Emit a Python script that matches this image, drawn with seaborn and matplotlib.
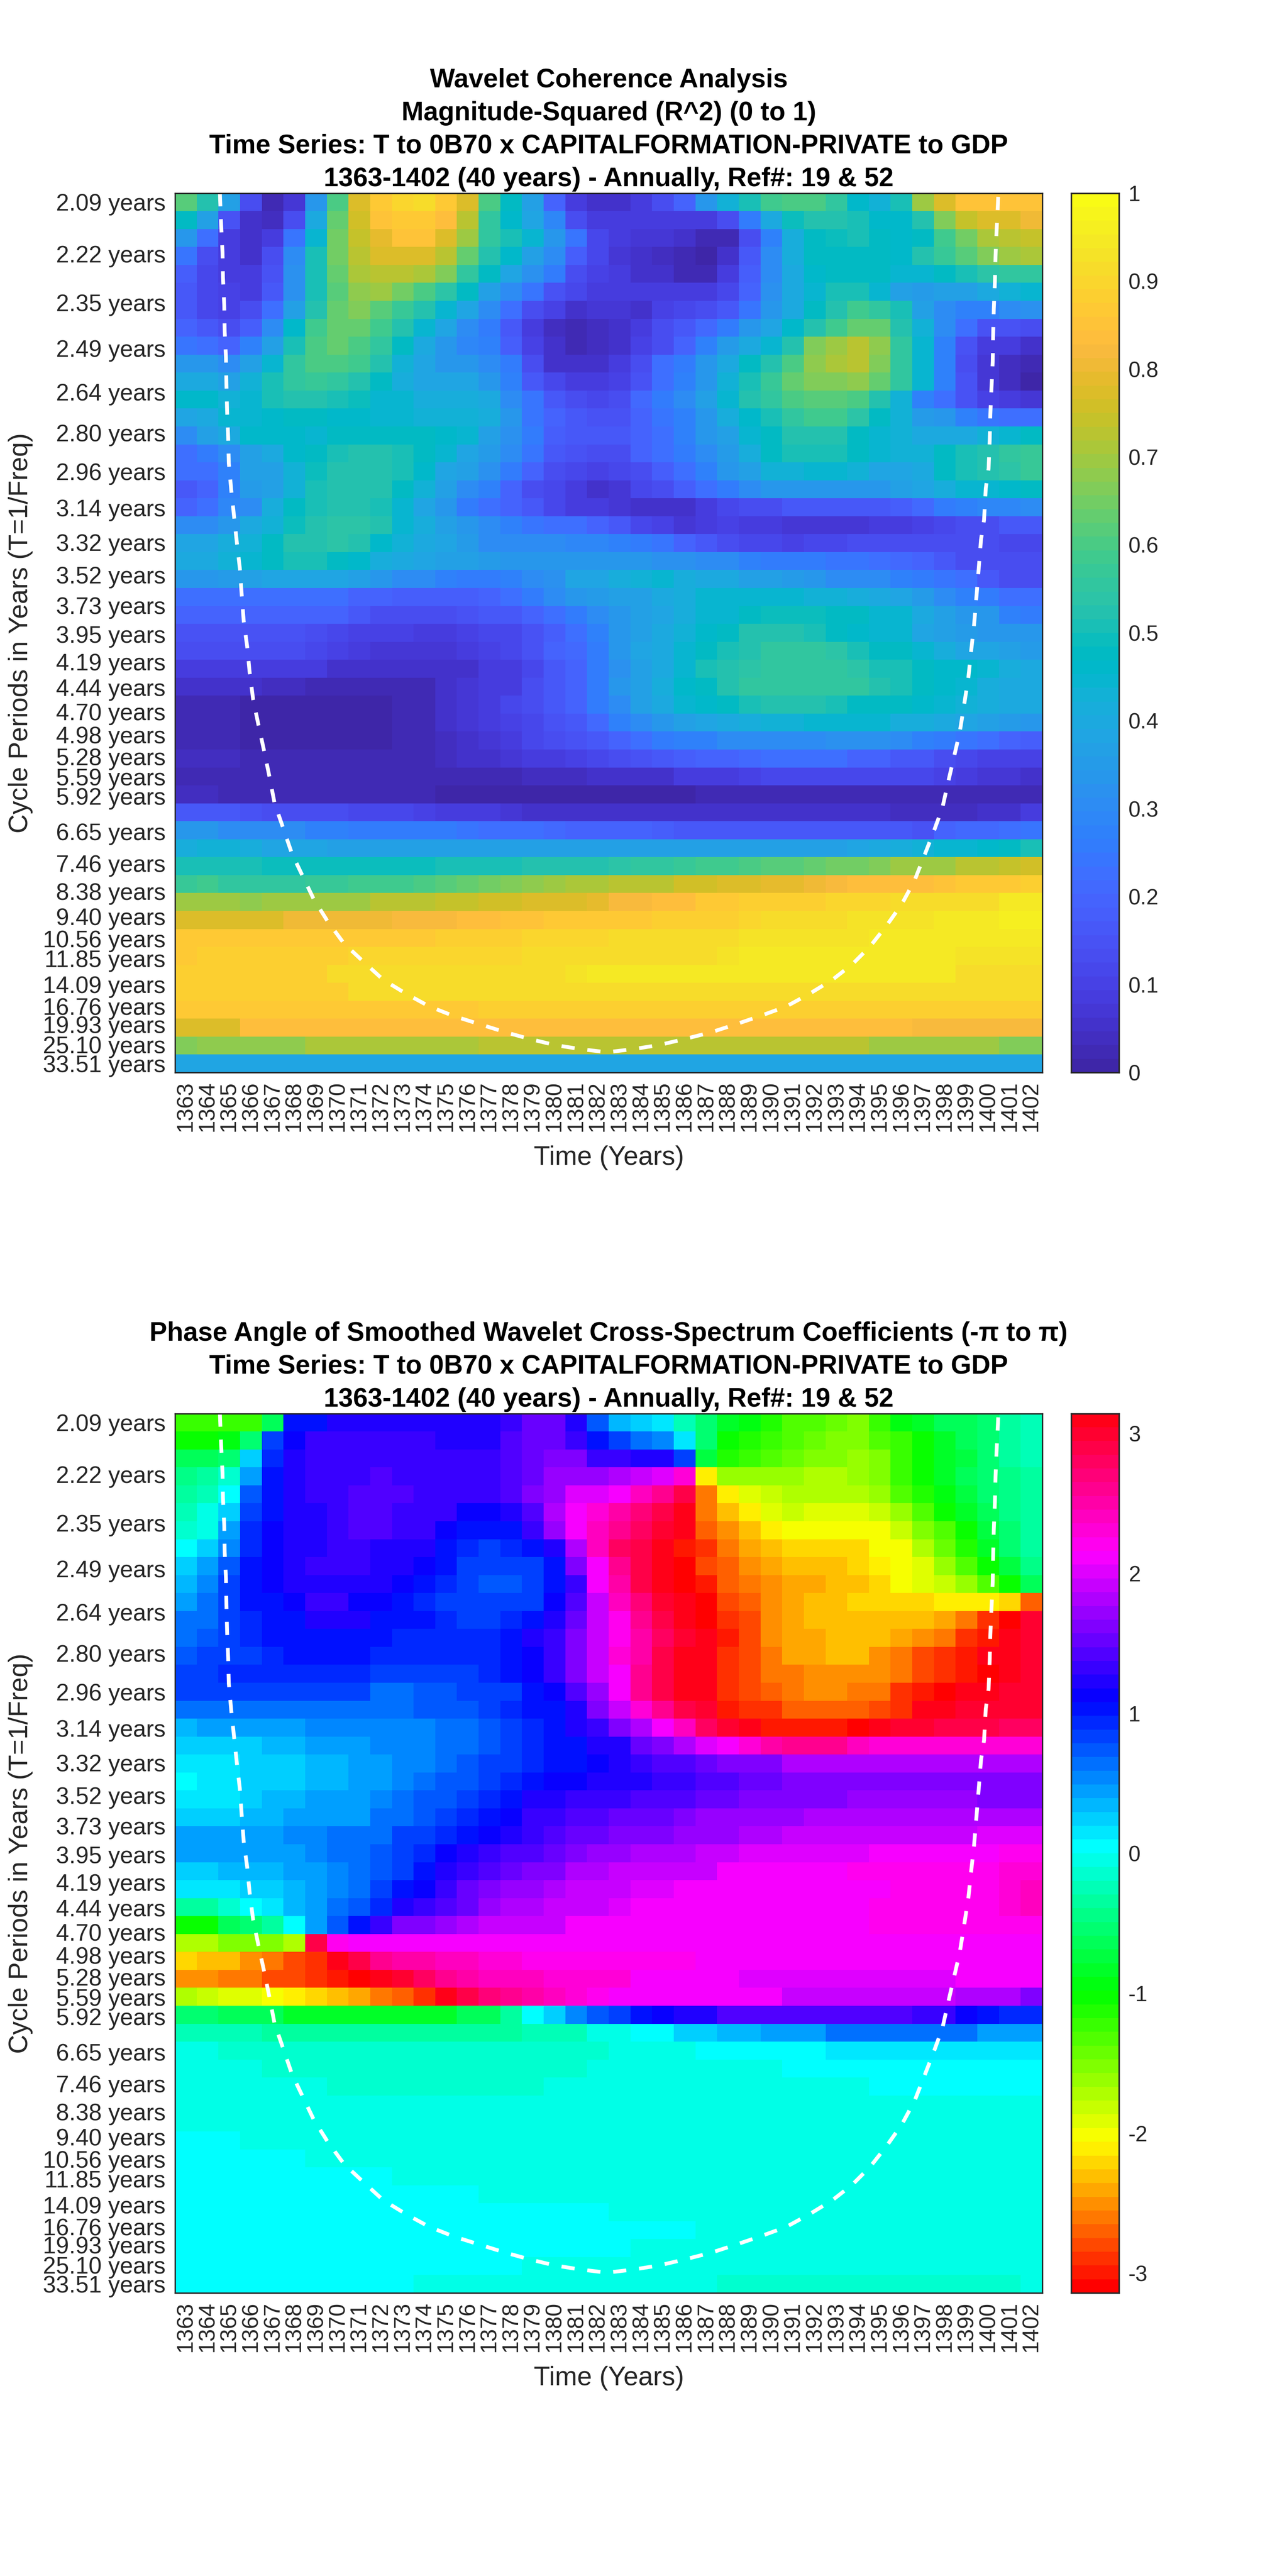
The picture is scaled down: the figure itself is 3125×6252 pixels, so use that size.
import numpy as np
import matplotlib
matplotlib.use("Agg")
import matplotlib.pyplot as plt
from matplotlib.colors import ListedColormap, hsv_to_rgb
import seaborn as sns

# Chart data
years = list(range(1363, 1403))

periods = [2.0944, 2.2189, 2.3509, 2.4907, 2.6388, 2.7957, 2.9620, 3.1381, 3.3247, 3.5224, 3.7319, 3.9538, 4.1889,
           4.4380, 4.7019, 4.9815, 5.2777, 5.5916, 5.9241, 6.2763, 6.6495, 7.0450, 7.4639, 7.9077, 8.3779, 8.8761,
           9.4039, 9.9631, 10.5552, 11.1832, 11.8482, 12.5527, 13.2991, 14.0899, 14.9277, 15.8154, 16.7551, 17.7522,
           18.8078, 19.9255, 21.1110, 22.3664, 23.6964, 25.1042, 26.5983, 28.1799, 29.8556, 31.6309, 33.5100]
labelled_periods = [2.09, 2.22, 2.35, 2.49, 2.64, 2.80, 2.96, 3.14, 3.32, 3.52, 3.73, 3.95, 4.19, 4.44, 4.70, 4.98,
                    5.28, 5.59, 5.92, 6.65, 7.46, 8.38, 9.40, 10.56, 11.85, 14.09, 16.76, 19.93, 25.10, 33.51]

# R^2 in percent, one list per cycle period
coherence = [
    [62, 53, 37, 13, 3, 7, 34, 60, 77, 87, 90, 92, 87, 77, 60, 47, 37, 20, 8, 5, 6, 9, 13, 19, 33, 43, 50, 58, 60, 60, 55, 46, 43, 50, 70, 77, 85, 85, 85, 85],
    [47, 37, 15, 6, 4, 14, 40, 64, 76, 85, 87, 87, 84, 72, 56, 46, 39, 29, 14, 8, 8, 9, 9, 9, 9, 13, 26, 40, 49, 53, 52, 50, 46, 46, 52, 66, 74, 78, 78, 80],
    [33, 22, 9, 6, 8, 24, 45, 65, 74, 79, 85, 85, 78, 70, 56, 50, 44, 33, 24, 12, 9, 7, 7, 5, 3, 3, 13, 28, 42, 47, 49, 50, 47, 46, 48, 58, 65, 71, 73, 74],
    [24, 14, 8, 6, 13, 30, 50, 65, 73, 78, 78, 78, 73, 64, 53, 46, 37, 30, 18, 11, 7, 6, 4, 2, 0, 6, 17, 31, 42, 47, 48, 48, 47, 46, 52, 57, 62, 67, 70, 71],
    [18, 11, 9, 9, 15, 32, 50, 64, 71, 73, 73, 71, 66, 55, 47, 39, 32, 25, 14, 10, 8, 6, 5, 3, 3, 9, 18, 30, 40, 46, 48, 48, 47, 44, 45, 48, 51, 54, 55, 56],
    [16, 11, 10, 9, 17, 32, 50, 62, 68, 69, 65, 60, 54, 47, 37, 30, 24, 15, 12, 9, 9, 9, 9, 9, 9, 12, 20, 32, 40, 44, 50, 50, 45, 37, 35, 36, 37, 40, 43, 44],
    [16, 12, 10, 13, 23, 37, 52, 64, 66, 62, 57, 52, 45, 38, 30, 22, 14, 10, 6, 7, 7, 6, 10, 12, 14, 16, 24, 33, 40, 47, 52, 58, 56, 50, 37, 31, 28, 28, 30, 32],
    [19, 16, 13, 18, 30, 46, 58, 63, 63, 58, 52, 45, 38, 30, 25, 16, 9, 4, 3, 4, 5, 8, 13, 17, 21, 26, 33, 38, 46, 53, 59, 64, 63, 52, 43, 30, 22, 15, 15, 14],
    [24, 22, 20, 27, 36, 50, 60, 63, 60, 55, 47, 40, 34, 29, 27, 18, 10, 5, 2, 4, 6, 10, 13, 19, 28, 35, 40, 45, 53, 66, 69, 72, 68, 55, 44, 27, 15, 8, 8, 6],
    [34, 33, 31, 37, 45, 56, 60, 60, 58, 52, 43, 38, 34, 33, 30, 25, 14, 6, 5, 5, 8, 13, 22, 26, 33, 40, 47, 53, 60, 68, 71, 73, 67, 55, 44, 27, 14, 7, 4, 2],
    [40, 40, 37, 43, 50, 56, 57, 56, 53, 48, 42, 38, 38, 38, 34, 28, 17, 12, 9, 8, 10, 15, 22, 28, 33, 43, 50, 57, 63, 67, 67, 68, 63, 55, 44, 27, 15, 7, 4, 1],
    [46, 46, 43, 45, 50, 53, 53, 51, 49, 45, 44, 41, 41, 42, 40, 31, 24, 17, 13, 11, 14, 21, 26, 30, 37, 44, 52, 56, 60, 62, 62, 60, 52, 43, 28, 23, 15, 10, 8, 7],
    [38, 40, 44, 45, 46, 47, 47, 46, 46, 44, 44, 43, 43, 43, 42, 34, 24, 19, 16, 15, 15, 20, 24, 28, 33, 41, 46, 50, 55, 58, 58, 54, 48, 43, 35, 33, 27, 24, 22, 22],
    [30, 37, 40, 46, 46, 46, 45, 47, 47, 47, 47, 47, 46, 45, 37, 32, 25, 18, 17, 16, 17, 20, 22, 27, 33, 36, 44, 48, 52, 53, 52, 48, 45, 43, 40, 40, 40, 43, 44, 48],
    [22, 25, 31, 37, 40, 46, 48, 50, 52, 52, 51, 48, 44, 38, 35, 30, 24, 17, 15, 14, 13, 19, 22, 26, 30, 35, 42, 47, 50, 50, 50, 47, 44, 43, 43, 47, 50, 53, 55, 57],
    [22, 23, 28, 36, 37, 43, 49, 53, 53, 53, 50, 46, 39, 36, 32, 26, 19, 13, 11, 10, 11, 14, 18, 23, 28, 33, 37, 43, 43, 44, 44, 43, 39, 39, 40, 47, 50, 53, 54, 57],
    [17, 19, 28, 35, 36, 43, 50, 53, 53, 52, 48, 43, 36, 30, 27, 20, 14, 11, 8, 6, 7, 11, 13, 18, 22, 26, 30, 33, 33, 33, 33, 33, 34, 36, 39, 42, 44, 45, 46, 47],
    [20, 22, 29, 31, 41, 47, 51, 53, 52, 50, 44, 39, 33, 26, 22, 20, 17, 12, 9, 8, 7, 5, 5, 6, 9, 12, 13, 14, 16, 16, 16, 16, 17, 18, 21, 26, 28, 29, 29, 30],
    [30, 31, 33, 40, 43, 49, 53, 54, 54, 52, 45, 42, 37, 33, 30, 27, 24, 23, 22, 20, 16, 12, 10, 7, 8, 10, 9, 8, 7, 7, 7, 7, 8, 9, 10, 11, 14, 14, 16, 16],
    [38, 38, 42, 43, 47, 52, 53, 54, 52, 46, 43, 40, 38, 35, 31, 31, 30, 30, 29, 29, 28, 26, 24, 20, 16, 14, 12, 11, 10, 11, 12, 13, 13, 14, 14, 14, 14, 14, 12, 12],
    [40, 40, 43, 45, 47, 50, 50, 48, 46, 42, 40, 38, 37, 36, 35, 34, 34, 34, 34, 33, 33, 33, 32, 32, 31, 30, 28, 26, 26, 26, 24, 24, 23, 21, 20, 17, 14, 14, 14, 14],
    [33, 34, 35, 36, 38, 39, 39, 38, 37, 33, 31, 30, 27, 25, 26, 27, 30, 32, 38, 39, 42, 43, 45, 42, 40, 40, 37, 36, 35, 34, 30, 31, 30, 28, 26, 24, 22, 17, 14, 14],
    [22, 22, 23, 23, 23, 23, 22, 22, 20, 20, 18, 18, 18, 18, 20, 23, 26, 30, 33, 35, 37, 37, 40, 42, 44, 45, 45, 45, 45, 43, 43, 42, 40, 38, 35, 30, 28, 26, 23, 22],
    [19, 19, 20, 20, 20, 20, 20, 20, 17, 14, 14, 13, 14, 15, 16, 17, 20, 22, 25, 30, 33, 36, 38, 42, 44, 45, 47, 49, 49, 49, 47, 47, 45, 44, 40, 36, 33, 33, 28, 25],
    [15, 15, 15, 15, 15, 15, 14, 12, 10, 10, 10, 9, 9, 10, 11, 12, 15, 18, 23, 27, 33, 37, 40, 43, 46, 48, 52, 52, 52, 50, 47, 46, 44, 44, 38, 37, 35, 33, 34, 33],
    [13, 13, 13, 13, 13, 13, 12, 10, 9, 7, 7, 7, 7, 8, 10, 12, 15, 19, 21, 25, 33, 38, 40, 44, 48, 51, 53, 55, 56, 56, 54, 51, 47, 47, 44, 42, 38, 38, 36, 35],
    [8, 8, 8, 8, 8, 8, 8, 6, 6, 5, 5, 5, 5, 6, 9, 9, 12, 17, 20, 25, 32, 37, 40, 44, 50, 52, 54, 55, 55, 55, 55, 54, 51, 50, 47, 46, 46, 44, 42, 40],
    [5, 5, 5, 5, 4, 4, 3, 3, 3, 3, 3, 3, 5, 7, 8, 9, 13, 17, 20, 25, 33, 37, 42, 46, 47, 52, 55, 56, 56, 56, 56, 55, 53, 50, 47, 46, 45, 42, 40, 40],
    [2, 2, 2, 1, 1, 1, 1, 1, 1, 1, 3, 3, 5, 7, 9, 11, 13, 16, 20, 25, 31, 37, 40, 44, 46, 48, 50, 52, 52, 52, 50, 48, 48, 47, 46, 45, 43, 42, 40, 40],
    [2, 2, 2, 1, 1, 1, 1, 1, 1, 1, 3, 3, 5, 7, 8, 10, 12, 15, 17, 21, 27, 30, 33, 37, 38, 40, 42, 43, 43, 44, 44, 44, 44, 42, 41, 40, 39, 37, 35, 33],
    [3, 3, 2, 1, 1, 1, 1, 1, 1, 1, 3, 3, 4, 6, 7, 9, 11, 13, 15, 16, 20, 22, 25, 27, 28, 30, 31, 31, 31, 31, 32, 32, 32, 30, 28, 25, 24, 23, 20, 18],
    [4, 4, 4, 3, 3, 3, 3, 3, 3, 3, 3, 3, 4, 5, 6, 7, 9, 9, 10, 11, 13, 15, 17, 18, 20, 20, 21, 22, 22, 22, 22, 20, 19, 17, 16, 13, 11, 10, 10, 10],
    [2, 2, 2, 2, 2, 2, 2, 2, 2, 2, 2, 2, 2, 2, 2, 3, 4, 4, 4, 5, 6, 5, 5, 8, 9, 9, 10, 11, 11, 11, 11, 11, 11, 11, 11, 10, 9, 7, 7, 5],
    [4, 4, 3, 3, 3, 3, 3, 3, 2, 2, 2, 2, 1, 1, 1, 1, 1, 1, 1, 1, 1, 1, 1, 1, 2, 2, 2, 2, 3, 3, 3, 3, 3, 3, 3, 3, 3, 3, 3, 3],
    [16, 16, 16, 15, 14, 14, 13, 13, 12, 12, 11, 10, 9, 9, 8, 7, 6, 6, 5, 5, 5, 5, 5, 5, 5, 5, 5, 5, 5, 5, 5, 5, 5, 4, 4, 4, 4, 6, 6, 8],
    [34, 33, 31, 31, 30, 30, 28, 27, 26, 26, 26, 25, 25, 24, 23, 22, 22, 21, 20, 20, 19, 19, 18, 17, 17, 17, 17, 17, 16, 16, 16, 16, 16, 16, 15, 20, 21, 21, 23, 24],
    [42, 43, 43, 41, 39, 38, 38, 37, 37, 37, 37, 37, 37, 37, 36, 36, 36, 36, 36, 36, 36, 36, 36, 36, 36, 36, 36, 36, 37, 37, 37, 39, 40, 41, 43, 44, 45, 46, 47, 50],
    [51, 51, 51, 50, 49, 49, 49, 49, 49, 49, 49, 49, 50, 50, 51, 51, 52, 52, 53, 53, 54, 55, 56, 57, 58, 59, 60, 61, 62, 63, 65, 65, 66, 69, 70, 70, 72, 72, 74, 75],
    [57, 58, 56, 56, 56, 56, 57, 57, 59, 59, 59, 60, 62, 63, 65, 66, 68, 69, 71, 71, 72, 73, 73, 75, 76, 77, 77, 79, 79, 80, 82, 83, 84, 84, 84, 85, 86, 86, 86, 88],
    [70, 70, 70, 68, 70, 70, 70, 70, 70, 72, 72, 73, 74, 74, 76, 76, 77, 77, 78, 79, 82, 82, 84, 84, 86, 86, 88, 88, 89, 89, 90, 90, 90, 92, 92, 92, 92, 92, 94, 94],
    [78, 78, 78, 78, 78, 80, 80, 80, 80, 80, 82, 82, 82, 84, 84, 85, 85, 86, 86, 87, 87, 87, 88, 88, 89, 89, 90, 91, 91, 91, 92, 93, 93, 93, 93, 94, 94, 95, 96, 96],
    [86, 86, 86, 86, 86, 86, 87, 87, 87, 87, 87, 87, 89, 89, 89, 89, 90, 90, 90, 90, 91, 91, 91, 91, 91, 92, 93, 93, 93, 93, 93, 93, 94, 94, 94, 94, 94, 94, 94, 94],
    [87, 88, 88, 88, 88, 88, 88, 88, 90, 90, 90, 90, 90, 90, 90, 90, 92, 92, 92, 92, 92, 92, 92, 92, 92, 93, 94, 94, 94, 94, 94, 94, 94, 94, 94, 94, 93, 93, 93, 93],
    [89, 89, 89, 89, 89, 89, 89, 91, 91, 91, 91, 91, 91, 91, 91, 91, 91, 91, 93, 94, 94, 94, 94, 94, 94, 94, 94, 94, 94, 94, 94, 94, 94, 94, 94, 94, 92, 92, 92, 92],
    [89, 89, 89, 89, 89, 89, 89, 89, 92, 92, 92, 92, 92, 92, 92, 92, 92, 92, 92, 92, 92, 92, 92, 92, 92, 92, 92, 92, 92, 92, 92, 92, 92, 92, 92, 92, 92, 92, 91, 91],
    [87, 87, 87, 87, 87, 87, 87, 87, 87, 87, 87, 87, 87, 87, 89, 89, 89, 89, 89, 89, 89, 89, 89, 89, 89, 89, 89, 89, 89, 89, 89, 89, 88, 88, 88, 88, 88, 88, 88, 88],
    [78, 78, 78, 83, 83, 83, 83, 83, 83, 83, 84, 84, 84, 84, 84, 84, 84, 84, 84, 84, 84, 84, 84, 84, 84, 84, 84, 84, 84, 84, 84, 84, 84, 84, 82, 82, 82, 82, 82, 82],
    [66, 68, 68, 68, 68, 68, 71, 71, 71, 71, 71, 71, 71, 71, 72, 72, 72, 72, 72, 72, 72, 72, 72, 72, 72, 72, 72, 72, 72, 72, 72, 72, 70, 70, 70, 70, 70, 70, 67, 67],
    [38, 38, 38, 38, 38, 38, 38, 38, 38, 38, 39, 39, 39, 39, 39, 39, 39, 39, 39, 39, 39, 39, 39, 39, 39, 39, 39, 39, 39, 39, 39, 39, 39, 39, 39, 39, 39, 39, 39, 39],
]

# phase angle in radians, one list per cycle period
phase = [
    [-1.25, -1.25, -1.25, -1.25, -.6, 1.05, 1.05, 1.2, 1.2, 1.2, 1.2, 1.2, 1.2, 1.2, 1.2, 1.3, 1.5, 1.5, 1.25, .7, .38, .25, .12, -.2, -.5, -.85, -.95, -1.1, -1.3, -1.3, -1.4, -1.5, -1.2, -.95, -.8, -.65, -.6, -.5, -.35, -.25],
    [-1.05, -1.05, -.95, -.55, .8, 1.15, 1.3, 1.3, 1.3, 1.3, 1.3, 1.3, 1.2, 1.2, 1.25, 1.4, 1.5, 1.5, 1.3, 1.05, .85, .6, .5, .1, -.5, -1.0, -1.15, -1.25, -1.35, -1.45, -1.55, -1.55, -1.35, -1.2, -1.05, -.8, -.65, -.5, -.33, -.25],
    [-.65, -.65, -.5, .2, .95, 1.25, 1.3, 1.3, 1.3, 1.3, 1.3, 1.3, 1.3, 1.3, 1.3, 1.4, 1.5, 1.6, 1.6, 1.35, 1.3, 1.2, 1.2, .85, -.75, -1.1, -1.2, -1.35, -1.45, -1.5, -1.55, -1.6, -1.5, -1.2, -1.05, -.85, -.7, -.5, -.35, -.25],
    [-.45, -.35, -.12, .45, 1.0, 1.25, 1.3, 1.3, 1.3, 1.4, 1.3, 1.3, 1.3, 1.3, 1.35, 1.4, 1.55, 1.7, 1.7, 1.7, 1.8, 1.95, 2.05, 2.3, -2.1, -1.65, -1.6, -1.6, -1.6, -1.75, -1.75, -1.65, -1.5, -1.2, -1.05, -.85, -.65, -.5, -.4, -.3],
    [-.38, -.22, .05, .75, 1.05, 1.25, 1.3, 1.3, 1.45, 1.45, 1.45, 1.3, 1.3, 1.3, 1.35, 1.45, 1.6, 1.75, 2.0, 2.05, 2.15, 2.4, 2.65, 2.9, -2.65, -2.1, -1.95, -1.8, -1.75, -1.75, -1.75, -1.75, -1.6, -1.35, -1.15, -.95, -.75, -.55, -.4, -.3],
    [-.25, -.08, .2, .85, 1.05, 1.25, 1.25, 1.3, 1.4, 1.4, 1.3, 1.3, 1.3, 1.15, 1.15, 1.2, 1.45, 1.8, 2.1, 2.35, 2.55, 2.7, 2.85, 3.08, -2.65, -2.3, -2.1, -1.9, -1.85, -1.95, -1.95, -1.95, -1.85, -1.6, -1.3, -1.05, -.8, -.6, -.42, -.3],
    [-.1, -.02, .45, .9, 1.15, 1.25, 1.25, 1.35, 1.4, 1.4, 1.35, 1.3, 1.15, 1.05, 1.05, 1.05, 1.3, 1.75, 2.1, 2.45, 2.65, 2.8, 3.0, 3.12, -2.7, -2.5, -2.35, -2.1, -2.05, -2.05, -2.05, -2.05, -2.05, -1.85, -1.5, -1.3, -1.05, -.75, -.5, -.35],
    [0, .25, .55, .9, 1.15, 1.25, 1.25, 1.35, 1.35, 1.25, 1.25, 1.2, 1.05, .95, .85, .95, 1.05, 1.2, 1.85, 2.4, 2.75, 2.85, 3.05, -3.0, -2.85, -2.6, -2.45, -2.3, -2.2, -2.2, -2.2, -2.2, -2.05, -2.0, -1.75, -1.4, -1.1, -.8, -.55, -.35],
    [.25, .4, .75, 1.0, 1.15, 1.25, 1.3, 1.35, 1.35, 1.25, 1.25, 1.15, 1.0, .85, .8, .8, .85, 1.05, 1.6, 2.1, 2.6, 2.9, 3.05, -3.14, -2.8, -2.7, -2.55, -2.45, -2.3, -2.3, -2.3, -2.2, -2.1, -2.0, -1.95, -1.65, -1.35, -1.0, -.7, -.45],
    [.35, .5, .8, 1.0, 1.15, 1.25, 1.25, 1.25, 1.25, 1.2, 1.1, 1.05, .9, .85, .75, .75, .85, 1.05, 1.35, 2.1, 2.55, 2.85, 3.05, -3.14, -3.0, -2.7, -2.6, -2.5, -2.4, -2.4, -2.3, -2.3, -2.2, -2.05, -1.95, -1.85, -1.65, -1.3, -1.05, -.65],
    [.4, .6, .85, 1.0, 1.05, 1.15, 1.3, 1.3, 1.15, 1.1, 1.05, .95, .85, .85, .85, .85, .85, 1.1, 1.4, 1.95, 2.45, 2.7, 2.95, 3.05, -3.05, -2.8, -2.7, -2.55, -2.4, -2.3, -2.3, -2.25, -2.25, -2.25, -2.25, -2.15, -2.15, -2.15, -2.25, -2.7],
    [.6, .6, .8, .9, 1.0, 1.05, 1.2, 1.2, 1.2, 1.05, 1.05, 1.05, .9, .8, .8, .95, 1.0, 1.2, 1.55, 1.95, 2.25, 2.6, 2.85, 3.05, -3.05, -2.9, -2.75, -2.55, -2.45, -2.3, -2.3, -2.3, -2.3, -2.3, -2.3, -2.45, -2.65, -2.85, -3.05, 3.0],
    [.65, .7, .85, .9, 1.0, 1.0, 1.05, 1.05, 1.0, 1.0, .95, .95, .95, .95, .95, 1.05, 1.2, 1.35, 1.6, 1.95, 2.25, 2.55, 2.8, 2.95, 3.14, -2.95, -2.8, -2.55, -2.4, -2.4, -2.3, -2.3, -2.3, -2.4, -2.5, -2.65, -2.9, -3.0, 3.14, 3.0],
    [.75, .8, .8, .85, .95, 1.0, 1.0, 1.0, 1.0, .9, .9, .9, .9, .9, .9, 1.05, 1.1, 1.35, 1.6, 1.95, 2.35, 2.55, 2.85, 3.05, 3.14, -2.9, -2.8, -2.6, -2.45, -2.45, -2.3, -2.3, -2.5, -2.6, -2.75, -2.85, -3.0, 3.14, 3.05, 3.0],
    [.85, .85, .95, .95, .95, .95, .95, .95, .95, .85, .85, .85, .85, .85, .9, 1.0, 1.15, 1.35, 1.6, 1.95, 2.15, 2.6, 2.85, 3.05, 3.14, -2.9, -2.8, -2.6, -2.6, -2.5, -2.5, -2.5, -2.5, -2.6, -2.8, -2.9, -3.0, -3.14, 3.05, 2.95],
    [.8, .8, .8, .8, .8, .8, .8, .8, .8, .65, .65, .7, .75, .8, .85, .85, 1.05, 1.15, 1.4, 1.7, 2.15, 2.6, 2.85, 3.05, 3.14, -2.9, -2.8, -2.7, -2.6, -2.5, -2.5, -2.65, -2.65, -2.85, -2.95, -3.05, 3.14, 3.1, 3.0, 2.95],
    [.6, .6, .6, .6, .6, .6, .6, .6, .6, .6, .6, .7, .7, .75, .85, .9, 1.0, 1.05, 1.25, 1.6, 1.9, 2.35, 2.65, 2.85, 3.0, -3.0, -2.9, -2.85, -2.7, -2.7, -2.7, -2.7, -2.8, -2.9, 3.14, 3.05, 3.0, 2.95, 2.95, 2.95],
    [.35, .45, .45, .45, .45, .45, .52, .52, .52, .52, .52, .52, .6, .6, .7, .8, .9, 1.0, 1.2, 1.3, 1.6, 1.85, 2.1, 2.4, 2.8, 3.0, 3.14, -3.0, -2.95, -3.0, -3.0, -3.05, 3.05, 3.0, 2.95, 2.9, 2.85, 2.85, 2.8, 2.8],
    [.25, .25, .25, .25, .35, .35, .45, .45, .45, .52, .52, .52, .6, .6, .75, .85, .95, 1.05, 1.05, 1.2, 1.25, 1.5, 1.6, 1.85, 2.0, 2.15, 2.3, 2.55, 2.6, 2.65, 2.65, 2.45, 2.35, 2.3, 2.3, 2.3, 2.3, 2.3, 2.3, 2.3],
    [.12, .12, .12, .25, .25, .25, .3, .3, .4, .4, .5, .5, .6, .7, .8, .85, .95, 1.05, 1.05, 1.15, 1.2, 1.3, 1.4, 1.45, 1.5, 1.6, 1.65, 1.65, 1.8, 1.8, 1.8, 1.8, 1.8, 1.8, 1.8, 1.8, 1.8, 1.8, 1.8, 1.8],
    [0, .12, .12, .2, .2, .2, .3, .3, .4, .4, .5, .6, .7, .75, .85, .95, 1.0, 1.1, 1.1, 1.2, 1.2, 1.25, 1.3, 1.35, 1.45, 1.45, 1.55, 1.55, 1.6, 1.6, 1.6, 1.6, 1.6, 1.6, 1.6, 1.6, 1.6, 1.6, 1.6, 1.6],
    [.12, .12, .12, .25, .3, .3, .4, .4, .45, .55, .6, .7, .75, .85, .95, 1.05, 1.2, 1.2, 1.3, 1.3, 1.35, 1.4, 1.45, 1.45, 1.55, 1.55, 1.6, 1.6, 1.65, 1.65, 1.65, 1.7, 1.7, 1.7, 1.7, 1.7, 1.7, 1.6, 1.6, 1.6],
    [.22, .22, .22, .35, .35, .4, .4, .48, .48, .6, .65, .75, .85, .95, 1.05, 1.1, 1.3, 1.35, 1.4, 1.45, 1.5, 1.55, 1.55, 1.65, 1.7, 1.7, 1.7, 1.7, 1.7, 1.85, 1.85, 1.85, 1.85, 1.85, 1.85, 1.85, 1.85, 1.85, 1.8, 1.8],
    [.4, .4, .4, .45, .45, .5, .5, .6, .6, .65, .8, .85, .95, 1.05, 1.15, 1.2, 1.3, 1.4, 1.5, 1.5, 1.6, 1.6, 1.65, 1.7, 1.75, 1.75, 1.85, 1.85, 1.9, 1.9, 1.9, 1.95, 1.95, 1.95, 1.95, 1.95, 1.95, 2.0, 2.0, 2.0],
    [.45, .45, .45, .4, .4, .45, .55, .6, .6, .7, .85, .95, 1.1, 1.2, 1.3, 1.4, 1.45, 1.5, 1.65, 1.7, 1.7, 1.85, 1.85, 1.85, 1.95, 1.95, 2.0, 2.0, 2.05, 2.05, 2.05, 2.05, 2.1, 2.1, 2.1, 2.1, 2.1, 2.15, 2.2, 2.2],
    [.25, .25, .38, .38, .38, .45, .45, .55, .6, .7, .85, 1.05, 1.2, 1.3, 1.45, 1.55, 1.65, 1.65, 1.8, 1.8, 1.9, 1.9, 1.9, 1.9, 1.95, 2.1, 2.1, 2.1, 2.1, 2.15, 2.15, 2.2, 2.2, 2.2, 2.2, 2.2, 2.2, 2.25, 2.35, 2.35],
    [.12, .12, .15, .2, .22, .35, .4, .55, .6, .8, 1.0, 1.15, 1.3, 1.5, 1.6, 1.7, 1.75, 1.85, 1.95, 1.95, 1.95, 2.05, 2.05, 2.1, 2.1, 2.1, 2.1, 2.1, 2.15, 2.15, 2.15, 2.15, 2.15, 2.2, 2.2, 2.2, 2.25, 2.25, 2.35, 2.4],
    [-.35, -.35, -.1, 0, .12, .3, .45, .6, .75, .9, 1.2, 1.35, 1.45, 1.55, 1.7, 1.8, 1.8, 1.9, 1.95, 1.95, 2.0, 2.1, 2.1, 2.1, 2.1, 2.1, 2.1, 2.1, 2.15, 2.15, 2.15, 2.15, 2.2, 2.2, 2.2, 2.2, 2.2, 2.25, 2.35, 2.4],
    [-1.05, -1.05, -.6, -.55, -.3, 0, .45, .75, 1.05, 1.3, 1.6, 1.65, 1.75, 1.85, 1.9, 1.9, 1.95, 1.95, 2.1, 2.1, 2.1, 2.1, 2.1, 2.1, 2.1, 2.1, 2.1, 2.1, 2.15, 2.15, 2.15, 2.15, 2.2, 2.2, 2.2, 2.2, 2.2, 2.2, 2.2, 2.2],
    [-1.7, -1.7, -1.55, -1.55, -1.55, -1.75, 2.85, 2.2, 2.1, 2.1, 2.1, 2.1, 2.1, 2.1, 2.1, 2.1, 2.1, 2.1, 2.1, 2.1, 2.1, 2.1, 2.1, 2.1, 2.1, 2.1, 2.1, 2.1, 2.1, 2.1, 2.1, 2.1, 2.1, 2.15, 2.15, 2.15, 2.15, 2.15, 2.15, 2.15],
    [-2.25, -2.35, -2.35, -2.55, -2.6, -2.75, -2.9, 3.1, 2.85, 2.65, 2.55, 2.55, 2.45, 2.4, 2.35, 2.3, 2.25, 2.25, 2.25, 2.25, 2.2, 2.2, 2.2, 2.2, 2.15, 2.15, 2.15, 2.15, 2.1, 2.1, 2.1, 2.1, 2.1, 2.1, 2.1, 2.15, 2.15, 2.15, 2.15, 2.15],
    [-2.55, -2.55, -2.6, -2.6, -2.75, -2.75, -2.85, -2.95, -3.1, 3.05, 2.95, 2.75, 2.6, 2.55, 2.45, 2.45, 2.4, 2.35, 2.3, 2.3, 2.3, 2.15, 2.15, 2.15, 2.1, 2.1, 2.05, 2.05, 2.05, 2.05, 2.05, 2.05, 2.05, 2.05, 2.05, 2.05, 2.1, 2.1, 2.1, 2.1],
    [-1.75, -1.85, -1.95, -1.95, -2.0, -2.1, -2.2, -2.3, -2.4, -2.6, -2.7, -2.9, 3.14, 2.85, 2.7, 2.6, 2.55, 2.4, 2.3, 2.25, 2.1, 2.1, 2.1, 2.1, 2.1, 2.1, 2.1, 2.1, 1.95, 1.95, 1.95, 1.95, 1.95, 1.95, 1.95, 1.95, 1.85, 1.85, 1.85, 1.65],
    [-.55, -.55, -.65, -.65, -.65, -.8, -.8, -.8, -.8, -.8, -.8, -.8, -.8, -.6, -.6, -.3, 0, .25, .5, .7, .85, 1.05, 1.15, 1.25, 1.25, 1.4, 1.4, 1.4, 1.4, 1.4, 1.4, 1.4, 1.4, 1.4, 1.3, 1.3, 1.15, 1.05, .9, .9],
    [-.25, -.25, -.25, -.25, -.35, -.35, -.35, -.35, -.35, -.35, -.35, -.35, -.35, -.35, -.35, -.35, -.2, -.2, -.2, -.08, -.08, .05, .05, .2, .2, .3, .3, .45, .45, .45, .6, .6, .6, .6, .6, .6, .6, .45, .45, .45],
    [-.05, -.05, -.15, -.15, -.15, -.15, -.15, -.15, -.15, -.15, -.15, -.15, -.15, -.15, -.15, -.15, -.15, -.15, -.15, -.15, -.05, -.05, -.05, -.05, .03, .03, .03, .03, .03, .03, .12, .12, .12, .12, .12, .12, .12, .12, .12, .12],
    [-.05, -.05, -.05, -.05, -.15, -.15, -.15, -.15, -.15, -.15, -.15, -.15, -.15, -.15, -.15, -.15, -.15, -.15, -.15, -.05, -.05, -.05, -.05, -.05, -.05, -.05, -.05, -.05, .03, .03, .03, .03, .03, .03, .03, .03, .03, .03, .03, .03],
    [-.05, -.05, -.05, -.05, -.05, -.05, -.05, -.15, -.15, -.15, -.15, -.15, -.15, -.15, -.15, -.15, -.15, -.05, -.05, -.05, -.05, -.05, -.05, -.05, -.05, -.05, -.05, -.05, -.05, -.05, -.05, -.05, .03, .03, .03, .03, .03, .03, .03, .03],
    [-.05, -.05, -.05, -.05, -.05, -.05, -.05, -.05, -.05, -.05, -.05, -.05, -.05, -.05, -.05, -.05, -.05, -.05, -.05, -.05, -.05, -.05, -.05, -.05, -.05, -.05, -.05, -.05, -.05, -.05, -.05, -.05, -.05, -.05, -.05, -.05, -.05, -.05, -.05, -.05],
    [-.05, -.05, -.05, -.05, -.05, -.05, -.05, -.05, -.05, -.05, -.05, -.05, -.05, -.05, -.05, -.05, -.05, -.05, -.05, -.05, -.05, -.05, -.05, -.05, -.05, -.05, -.05, -.05, -.05, -.05, -.05, -.05, -.05, -.05, -.05, -.05, -.05, -.05, -.05, -.05],
    [.03, .03, .03, -.05, -.05, -.05, -.05, -.05, -.05, -.05, -.05, -.05, -.05, -.05, -.05, -.05, -.05, -.05, -.05, -.05, -.05, -.05, -.05, -.05, -.05, -.05, -.05, -.05, -.05, -.05, -.05, -.05, -.05, -.05, -.05, -.05, -.05, -.05, -.05, -.05],
    [.03, .03, .03, .03, .03, .03, -.05, -.05, -.05, -.05, -.05, -.05, -.05, -.05, -.05, -.05, -.05, -.05, -.05, -.05, -.05, -.05, -.05, -.05, -.05, -.05, -.05, -.05, -.05, -.05, -.05, -.05, -.05, -.05, -.05, -.05, -.05, -.05, -.05, -.05],
    [.03, .03, .03, .03, .03, .03, .03, .03, .03, .03, -.05, -.05, -.05, -.05, -.05, -.05, -.05, -.05, -.05, -.05, -.05, -.05, -.05, -.05, -.05, -.05, -.05, -.05, -.05, -.05, -.05, -.05, -.05, -.05, -.05, -.05, -.05, -.05, -.05, -.05],
    [.03, .03, .03, .03, .03, .03, .03, .03, .03, .03, .03, .03, .03, .03, -.05, -.05, -.05, -.05, -.05, -.05, -.05, -.05, -.05, -.05, -.05, -.05, -.05, -.05, -.05, -.05, -.05, -.05, -.05, -.05, -.05, -.05, -.05, -.05, -.05, -.05],
    [.03, .03, .03, .03, .03, .03, .03, .03, .03, .03, .03, .03, .03, .03, .03, .03, .03, .03, .03, .03, -.05, -.05, -.05, -.05, -.05, -.05, -.05, -.05, -.05, -.05, -.05, -.05, -.05, -.05, -.05, -.05, -.05, -.05, -.05, -.05],
    [.03, .03, .03, .03, .03, .03, .03, .03, .03, .03, .03, .03, .03, .03, .03, .03, .03, .03, .03, .03, .03, .03, .03, .03, -.05, -.05, -.05, -.05, -.05, -.05, -.05, -.05, -.05, -.05, -.05, -.05, -.05, -.05, -.05, -.05],
    [.03, .03, .03, .03, .03, .03, .03, .03, .03, .03, .03, .03, .03, .03, .03, .03, .03, .03, .03, .03, .03, -.05, -.05, -.05, -.05, -.05, -.05, -.05, -.05, -.05, -.05, -.05, -.05, -.05, -.05, -.05, -.05, -.05, -.05, -.05],
    [.03, .03, .03, .03, .03, .03, .03, .03, .03, .03, .03, .03, .03, .03, .03, .03, -.05, -.05, -.05, -.05, -.05, -.05, -.05, -.05, -.05, -.05, -.05, -.05, -.05, -.05, -.05, -.05, -.05, -.05, -.05, -.05, -.05, -.05, -.05, -.05],
    [.03, .03, .03, .03, .03, .03, .03, .03, .03, .03, .03, -.05, -.05, -.05, -.05, -.05, -.05, -.05, -.05, -.05, -.05, -.05, -.05, -.05, -.05, -.15, -.15, -.15, -.15, -.15, -.15, -.15, -.15, -.15, -.15, -.15, -.15, -.15, -.15, -.05],
]

# cone of influence, read as heatmap cell positions (column, row)
coi_col = [2.07, 2.08, 2.13, 2.19, 2.21, 2.27, 2.29, 2.35, 2.37, 2.40, 2.45, 2.48, 2.59, 2.72, 2.85, 2.99, 3.07, 3.17,
           3.33, 3.44, 3.60, 3.84, 4.11, 4.35, 4.59, 4.99, 5.39, 5.84, 6.40, 7.04, 7.79, 8.72, 9.60, 10.67, 11.73,
           12.85, 14.0, 15.17, 16.32, 17.52, 18.72, 19.92, 21.12, 22.32, 23.52, 24.72, 25.92, 26.99, 28.19, 29.25,
           30.32, 31.25, 32.05, 32.80, 33.52, 34.11, 34.51, 34.99, 35.39, 35.65, 35.92, 36.19, 36.40, 36.59, 36.72,
           36.85, 36.96, 37.04, 37.17, 37.31, 37.39, 37.52, 37.57, 37.60, 37.65, 37.71, 37.73, 37.76, 37.81, 37.84,
           37.89, 37.95, 37.97]
coi_row = [0.0, 0.37, 1.84, 3.30, 4.70, 6.24, 7.71, 9.18, 10.65, 12.11, 13.58, 15.05, 16.52, 17.99, 19.46, 20.92, 22.3,
           23.88, 25.29, 26.69, 28.19, 29.59, 31.09, 32.49, 33.99, 35.39, 36.80, 37.94, 39.35, 40.58, 41.81, 42.86,
           43.83, 44.62, 45.32, 45.85, 46.29, 46.73, 47.12, 47.47, 47.70, 47.87, 47.70, 47.47, 47.13, 46.76, 46.29,
           45.85, 45.32, 44.62, 43.83, 42.95, 41.98, 40.84, 39.61, 38.29, 37.06, 35.57, 34.25, 32.84, 31.44, 30.03,
           28.45, 26.96, 25.46, 24.06, 22.48, 21.29, 19.31, 18.21, 16.45, 15.35, 13.80, 12.33, 10.94, 9.40, 7.93,
           6.46, 4.99, 3.52, 2.06, 0.59, 0.0]

parula_colors = [
    [0.2422, 0.1504, 0.6603], [0.2504, 0.1650, 0.7076], [0.2578, 0.1818, 0.7511], [0.2647, 0.1978, 0.7952],
    [0.2706, 0.2147, 0.8364], [0.2751, 0.2342, 0.8710], [0.2783, 0.2559, 0.8991], [0.2803, 0.2782, 0.9221],
    [0.2813, 0.3006, 0.9414], [0.2810, 0.3228, 0.9579], [0.2795, 0.3447, 0.9717], [0.2760, 0.3667, 0.9829],
    [0.2699, 0.3892, 0.9906], [0.2602, 0.4123, 0.9952], [0.2440, 0.4358, 0.9988], [0.2206, 0.4603, 0.9973],
    [0.1963, 0.4847, 0.9892], [0.1834, 0.5074, 0.9798], [0.1786, 0.5289, 0.9682], [0.1764, 0.5499, 0.9520],
    [0.1687, 0.5703, 0.9359], [0.1540, 0.5902, 0.9218], [0.1460, 0.6091, 0.9079], [0.1380, 0.6276, 0.8973],
    [0.1248, 0.6459, 0.8883], [0.1113, 0.6635, 0.8763], [0.0952, 0.6798, 0.8598], [0.0689, 0.6948, 0.8394],
    [0.0297, 0.7082, 0.8163], [0.0036, 0.7203, 0.7917], [0.0067, 0.7312, 0.7660], [0.0433, 0.7411, 0.7394],
    [0.0964, 0.7500, 0.7120], [0.1408, 0.7584, 0.6842], [0.1717, 0.7670, 0.6554], [0.1938, 0.7758, 0.6251],
    [0.2161, 0.7843, 0.5923], [0.2470, 0.7918, 0.5567], [0.2906, 0.7973, 0.5188], [0.3406, 0.8008, 0.4789],
    [0.3909, 0.8029, 0.4354], [0.4456, 0.8024, 0.3909], [0.5044, 0.7993, 0.3480], [0.5616, 0.7942, 0.3045],
    [0.6174, 0.7876, 0.2612], [0.6720, 0.7793, 0.2227], [0.7242, 0.7698, 0.1910], [0.7738, 0.7598, 0.1646],
    [0.8203, 0.7498, 0.1535], [0.8634, 0.7406, 0.1596], [0.9035, 0.7330, 0.1774], [0.9393, 0.7288, 0.2100],
    [0.9728, 0.7298, 0.2394], [0.9956, 0.7434, 0.2371], [0.9970, 0.7659, 0.2199], [0.9952, 0.7893, 0.2028],
    [0.9892, 0.8136, 0.1885], [0.9786, 0.8386, 0.1766], [0.9676, 0.8639, 0.1643], [0.9610, 0.8890, 0.1537],
    [0.9597, 0.9135, 0.1423], [0.9628, 0.9373, 0.1265], [0.9691, 0.9606, 0.1064], [0.9769, 0.9839, 0.0805],
]

title_top = ["Wavelet Coherence Analysis", "Magnitude-Squared (R^2) (0 to 1)",
             "Time Series: T to 0B70 x CAPITALFORMATION-PRIVATE to GDP",
             "1363-1402 (40 years) - Annually, Ref#: 19 & 52"]
title_bottom = ["Phase Angle of Smoothed Wavelet Cross-Spectrum Coefficients (-\u03c0 to \u03c0)",
                "Time Series: T to 0B70 x CAPITALFORMATION-PRIVATE to GDP",
                "1363-1402 (40 years) - Annually, Ref#: 19 & 52"]
ticks_top = [0, 0.1, 0.2, 0.3, 0.4, 0.5, 0.6, 0.7, 0.8, 0.9, 1]
ticks_bottom = [-3, -2, -1, 0, 1, 2, 3]

sns.set_theme(style="white")
plt.rcParams["font.family"] = ["Liberation Sans", "DejaVu Sans"]
plt.rcParams["axes.edgecolor"] = "#262626"
plt.rcParams["axes.linewidth"] = 0.8

W, H = 3125, 6252
DARK = "#262626"


def px_axes(fig, left, top, right, bottom):
    return fig.add_axes([left / W, 1 - bottom / H, (right - left) / W, (bottom - top) / H])


def draw_panel(fig, values, cmap, vmin, vmax, cbar_ticks, title, top, bottom):
    ax = px_axes(fig, 425, top, 2531, bottom)
    cax = px_axes(fig, 2601, top, 2717, bottom)
    sns.heatmap(values, ax=ax, cbar_ax=cax, cmap=cmap, vmin=vmin, vmax=vmax,
                cbar_kws={"ticks": cbar_ticks, "format": "%g"})

    # the image is uniform per row but the axis runs linear in frequency
    freqs = 1 / np.array(periods)
    rows = 0.5 + (freqs[0] - freqs) / (freqs[0] - freqs[-1]) * 48
    ax.set_yticks(rows)
    ax.set_yticklabels([f"{p:.2f} years" if round(p, 2) in labelled_periods else "" for p in periods],
                       rotation=0, fontsize=13.7, color=DARK)
    for label in ax.get_yticklabels():
        label.set_verticalalignment("center_baseline")
    ax.set_xticks(np.arange(len(years)) + 0.5)
    ax.set_xticklabels(years, rotation=90, fontsize=13.2, color=DARK)
    ax.tick_params(axis="both", which="major", direction="in", length=5.2, width=0.7, color=DARK,
                   top=True, right=True, bottom=True, left=True)
    ax.tick_params(axis="y", pad=5.5)
    ax.tick_params(axis="x", pad=5)
    for spine in ax.spines.values():
        spine.set_visible(True)
        spine.set_color(DARK)

    ax.plot(coi_col, coi_row, color="white", linewidth=2.2, linestyle=(0, (3.5, 3.4)), dash_capstyle="butt")

    ax.set_xlabel("Time (Years)", fontsize=15.5, color=DARK, labelpad=8)
    ax.set_ylabel("Cycle Periods in Years (T=1/Freq)", fontsize=15.5, color=DARK)
    ax.yaxis.set_label_coords(-0.164, 0.5)
    ax.set_title("\n".join(title), fontsize=15.4, fontweight="bold", color="black", pad=4.1, linespacing=1.42)

    cax.tick_params(axis="y", direction="in", length=5, width=0.7, color=DARK, labelsize=12.7,
                    labelcolor=DARK, pad=5.5, right=True)
    for label in cax.get_yticklabels():
        label.set_verticalalignment("center_baseline")
    for spine in cax.spines.values():
        spine.set_visible(True)
        spine.set_color(DARK)
        spine.set_linewidth(0.8)
    return ax


fig = plt.figure(figsize=(W / 300, H / 300), dpi=300)

parula = ListedColormap(parula_colors, name="parula")
# 64-step hsv wheel, red at both ends
hsv64 = ListedColormap(hsv_to_rgb(np.column_stack([np.arange(64) / 64, np.ones(64), np.ones(64)])), name="hsv64")

draw_panel(fig, np.array(coherence) / 100, parula, 0, 1, ticks_top, title_top, 468.7, 2603)
draw_panel(fig, np.array(phase), hsv64, -np.pi, np.pi, ticks_bottom, title_bottom, 3430.6, 5565)

fig.savefig("out.png", dpi=300, facecolor="white")
